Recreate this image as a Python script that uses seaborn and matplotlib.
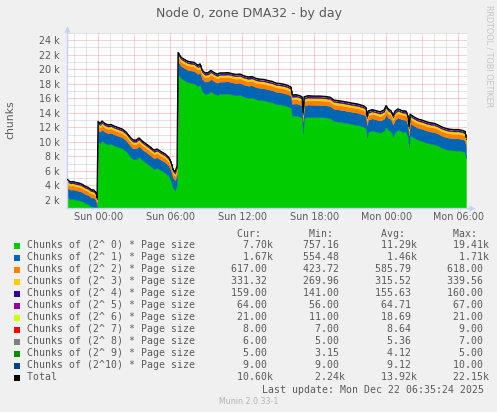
import numpy as np
import matplotlib
matplotlib.use("Agg")
import matplotlib.pyplot as plt
from matplotlib.patches import Rectangle
import seaborn as sns

# sample times in minutes from the left edge of the graph (one rrd step = 5 min = 1 px)
minutes = [
    0, 15, 30, 45, 60, 75, 90, 105, 120, 135, 145, 150,
    155, 165, 175, 190, 205, 220, 235, 255, 275, 295, 315, 330, 345,
    360, 375, 395, 415, 435, 450, 470, 490, 510, 520, 530, 540, 550,
    555, 570, 585, 600, 615, 635, 655, 665, 675, 690, 705, 720, 735, 750, 765, 785, 805, 825, 845, 865, 885,
    905, 925, 945, 965, 985, 1005, 1025, 1045, 1065, 1085, 1105, 1120, 1125, 1145, 1165, 1175, 1180, 1185, 1205, 1235, 1265,
    1295, 1315, 1335, 1365, 1395, 1425, 1455, 1485, 1495, 1500, 1505, 1525, 1545, 1565, 1585, 1595, 1605, 1620, 1630, 1640, 1655,
    1675, 1695, 1705, 1710, 1715, 1735, 1755, 1775, 1795, 1815, 1835, 1855, 1875, 1895, 1915, 1935, 1955, 1975, 1990, 1995,
]

# chunks of (2^n) * page size, stacked from n = 0 upwards
c0 = [
    2450, 2100, 2150, 2000, 1950, 1800, 1550, 1400, 1100, 1050, 800, 757,
    10100, 9800, 10150, 9800, 9650, 9700, 9500, 9300, 9100, 8700, 8000, 7600, 7600,
    7900, 7500, 7100, 6700, 6250, 6400, 6050, 5750, 5200, 4600, 3600, 3300, 4100,
    19410, 18750, 18500, 18250, 18150, 18050, 17650, 17850, 17000, 16600, 16650, 16950, 16650, 16450, 16600, 16600, 16650, 16500, 16400, 16450, 16200,
    16050, 16100, 15850, 15750, 15700, 15550, 15450, 15200, 15150, 15050, 14850, 14650, 13550, 13600, 13450, 13300, 11100, 13300, 13450, 13400, 13400,
    13350, 13250, 12850, 12750, 12600, 12450, 12300, 12050, 11800, 10600, 11350, 11550, 11400, 11250, 11500, 12100, 11650, 11400, 10700, 11350, 11650,
    11400, 11350, 10600, 9200, 10900, 10550, 10250, 10100, 9900, 9750, 9650, 9450, 9150, 8950, 8850, 8800, 8800, 8700, 8550, 7700,
]
c1 = [
    1300, 1300, 1280, 1300, 1290, 1280, 1270, 1260, 1250, 1240, 1150, 555,
    1550, 1560, 1550, 1540, 1540, 1530, 1530, 1520, 1520, 1510, 1500, 1500, 1490,
    1490, 1480, 1480, 1470, 1470, 1460, 1460, 1450, 1450, 1440, 1440, 1430, 1430,
    1710, 1700, 1700, 1700, 1690, 1700, 1690, 1700, 1690, 1690, 1690, 1690, 1690, 1680, 1690, 1690, 1680, 1690, 1680, 1680, 1680,
    1680, 1680, 1680, 1670, 1680, 1680, 1670, 1680, 1670, 1670, 1680, 1670, 1680, 1680, 1680, 1670, 1670, 1680, 1680, 1680, 1680,
    1670, 1680, 1680, 1670, 1680, 1670, 1680, 1670, 1670, 1670, 1680, 1670, 1680, 1670, 1670, 1670, 1680, 1670, 1670, 1680, 1670,
    1680, 1670, 1670, 1670, 1680, 1670, 1670, 1680, 1670, 1670, 1680, 1670, 1670, 1680, 1670, 1670, 1680, 1670, 1670, 1670,
]
c2 = [
    560, 555, 555, 550, 550, 545, 545, 540, 535, 530, 510, 424,
    595, 595, 595, 590, 590, 590, 590, 590, 585, 585, 585, 585, 585,
    580, 580, 580, 580, 580, 580, 575, 575, 575, 575, 570, 570, 575,
    605, 605, 605, 605, 605, 605, 605, 610, 605, 605, 610, 610, 610, 610, 610, 610, 610, 610, 610, 610, 610,
    610, 610, 610, 610, 612, 612, 612, 612, 612, 612, 612, 612, 612, 612, 612, 612, 612, 612, 614, 614, 614,
    614, 614, 614, 614, 614, 614, 614, 614, 614, 614, 614, 614, 616, 616, 616, 616, 616, 616, 616, 616, 616,
    616, 616, 616, 616, 616, 618, 618, 618, 618, 618, 618, 618, 618, 618, 618, 618, 618, 618, 618, 617,
]
c3 = [
    300, 300, 298, 298, 296, 295, 294, 293, 292, 290, 285, 270,
    312, 312, 311, 311, 311, 310, 310, 310, 310, 309, 309, 309, 309,
    308, 308, 308, 308, 307, 307, 307, 307, 306, 306, 306, 305, 305,
    322, 322, 323, 323, 324, 324, 325, 325, 326, 326, 327, 327, 328, 328, 329, 329, 330, 330, 331, 331, 332,
    332, 333, 333, 334, 334, 335, 335, 336, 336, 337, 337, 338, 338, 338, 339, 339, 339, 339, 339.56, 339, 339,
    338, 338, 337, 337, 336, 336, 335, 335, 335, 334, 334, 334, 333, 333, 333, 333, 332, 332, 332, 332, 332,
    332, 332, 331, 331, 331, 331, 331, 331, 331, 331, 331, 331, 331, 331, 331, 331, 331, 331, 331, 331.32,
]
c4 = [
    152, 152, 151, 151, 150, 150, 149, 149, 148, 147, 145, 141,
    156, 156, 156, 156, 155, 155, 155, 155, 155, 155, 155, 155, 155,
    154, 154, 154, 154, 154, 154, 154, 154, 153, 153, 153, 153, 153,
    158, 158, 158, 158, 158, 158, 158, 158, 158, 158, 159, 159, 159, 159, 159, 159, 159, 159, 159, 159, 159,
    159, 159, 159, 159, 159, 159, 159, 159, 159, 159, 160, 160, 160, 160, 160, 160, 160, 160, 160, 160, 160,
    160, 160, 160, 160, 160, 160, 160, 160, 160, 160, 160, 160, 160, 160, 160, 160, 160, 160, 160, 160, 160,
    160, 160, 160, 160, 160, 160, 160, 160, 160, 160, 160, 160, 160, 160, 160, 159, 159, 159, 159, 159,
]
c5 = [
    56, 56, 57, 57, 58, 58, 58, 59, 59, 60, 60, 60,
    64, 64, 64, 64, 64, 64, 64, 64, 64, 64, 64, 64, 64,
    65, 65, 65, 65, 65, 65, 65, 65, 65, 65, 65, 65, 65,
    67, 67, 67, 67, 67, 67, 67, 67, 67, 67, 67, 67, 67, 67, 67, 67, 67, 67, 67, 67, 67,
    67, 67, 67, 67, 67, 67, 67, 67, 67, 67, 67, 67, 67, 67, 67, 67, 67, 67, 67, 67, 67,
    66, 66, 66, 66, 66, 66, 66, 66, 66, 66, 66, 66, 66, 66, 66, 66, 66, 66, 66, 66, 66,
    65, 65, 65, 65, 65, 65, 65, 65, 65, 65, 65, 65, 64, 64, 64, 64, 64, 64, 64, 64,
]
c6 = [
    11, 11, 11, 11, 11, 11, 11, 11, 11, 11, 11, 11,
    17, 17, 17, 17, 17, 17, 17, 17, 17, 17, 17, 17, 17,
    18, 18, 18, 18, 18, 18, 18, 18, 18, 18, 18, 18, 18,
    21, 21, 21, 21, 21, 21, 21, 21, 21, 21, 21, 21, 21, 21, 21, 21, 21, 21, 21, 21, 21,
    21, 21, 21, 21, 21, 21, 21, 21, 21, 21, 21, 21, 21, 21, 21, 21, 21, 21, 21, 21, 21,
    21, 21, 21, 21, 21, 21, 21, 21, 21, 21, 21, 21, 21, 21, 21, 21, 21, 21, 21, 21, 21,
    21, 21, 21, 21, 21, 21, 21, 21, 21, 21, 21, 21, 21, 21, 21, 21, 21, 21, 21, 21,
]
c7 = [
    7, 7, 7, 7, 7, 7, 7, 7, 7, 7, 7, 7,
    9, 9, 9, 9, 9, 9, 9, 9, 9, 9, 9, 9, 9,
    9, 9, 9, 9, 9, 9, 9, 9, 9, 9, 9, 9, 9,
    9, 9, 9, 9, 9, 9, 9, 9, 9, 9, 9, 9, 9, 9, 9, 9, 9, 9, 9, 9, 9,
    9, 9, 9, 9, 9, 9, 9, 9, 9, 9, 9, 9, 9, 9, 9, 9, 9, 9, 9, 9, 9,
    9, 9, 9, 9, 9, 9, 9, 9, 9, 9, 9, 9, 9, 9, 9, 9, 9, 9, 9, 9, 9,
    8, 8, 8, 8, 8, 8, 8, 8, 8, 8, 8, 8, 8, 8, 8, 8, 8, 8, 8, 8,
]
c8 = [
    7, 7, 6, 6, 6, 6, 6, 5, 5, 5, 5, 5,
    5, 5, 5, 5, 5, 5, 5, 5, 5, 5, 5, 5, 5,
    5, 5, 5, 5, 5, 5, 5, 5, 5, 5, 5, 5, 5,
    5, 5, 5, 5, 5, 5, 5, 5, 5, 5, 5, 5, 5, 5, 5, 5, 5, 5, 5, 5, 5,
    5, 5, 5, 5, 5, 5, 5, 5, 5, 5, 5, 5, 5, 5, 5, 5, 5, 5, 5, 5, 5,
    5, 5, 5, 5, 5, 5, 5, 5, 5, 5, 5, 5, 5, 5, 5, 5, 5, 5, 5, 5, 5,
    5, 5, 5, 5, 5, 5, 5, 6, 6, 6, 6, 6, 6, 6, 6, 6, 6, 6, 6, 6,
]
c9 = [
    3.15, 3.15, 3.15, 3.15, 3.15, 3.15, 3.15, 3.15, 3.15, 3.15, 3.15, 3.15,
    4, 4, 4, 4, 4, 4, 4, 4, 4, 4, 4, 4, 4,
    4, 4, 4, 4, 4, 4, 4, 4, 4, 4, 4, 4, 4,
    4, 4, 4, 4, 4, 4, 4, 4, 4, 4, 4, 4, 4, 4, 4, 4, 4, 4, 4, 4, 4,
    4, 4, 4, 4, 4, 4, 4, 4, 4, 4, 4, 4, 4, 4, 4, 4, 4, 4, 4, 4, 4,
    4, 4, 4, 4, 4, 4, 4, 4, 4, 4, 4, 4, 4, 4, 4, 4, 4, 4, 4, 4, 4,
    5, 5, 5, 5, 5, 5, 5, 5, 5, 5, 5, 5, 5, 5, 5, 5, 5, 5, 5, 5,
]
c10 = [
    10, 10, 10, 10, 10, 10, 10, 10, 10, 10, 10, 10,
    9, 9, 9, 9, 9, 9, 9, 9, 9, 9, 9, 9, 9,
    9, 9, 9, 9, 9, 9, 9, 9, 9, 9, 9, 9, 9,
    9, 9, 9, 9, 9, 9, 9, 9, 9, 9, 9, 9, 9, 9, 9, 9, 9, 9, 9, 9, 9,
    9, 9, 9, 9, 9, 9, 9, 9, 9, 9, 9, 9, 9, 9, 9, 9, 9, 9, 9, 9, 9,
    9, 9, 9, 9, 9, 9, 9, 9, 9, 9, 9, 9, 9, 9, 9, 9, 9, 9, 9, 9, 9,
    9, 9, 9, 9, 9, 9, 9, 9, 9, 9, 9, 9, 9, 9, 9, 9, 9, 9, 9, 9,
]

series_labels = [
    "Chunks of (2^ 0) * Page size", "Chunks of (2^ 1) * Page size",
    "Chunks of (2^ 2) * Page size", "Chunks of (2^ 3) * Page size",
    "Chunks of (2^ 4) * Page size", "Chunks of (2^ 5) * Page size",
    "Chunks of (2^ 6) * Page size", "Chunks of (2^ 7) * Page size",
    "Chunks of (2^ 8) * Page size", "Chunks of (2^ 9) * Page size",
    "Chunks of (2^10) * Page size", "Total",
]
colors = ["#00CC00", "#0066B3", "#FF8000", "#FFCC00", "#330099", "#990099",
          "#CCFF00", "#FF0000", "#808080", "#008F00", "#00487D", "#000000"]

# legend statistics (last row = Total)
cur_vals = [7700, 1670, 617.00, 331.32, 159.00, 64.00, 21.00, 8.00, 6.00, 5.00, 9.00, 10600]
min_vals = [757.16, 554.48, 423.72, 269.96, 141.00, 56.00, 11.00, 7.00, 5.00, 3.15, 9.00, 2240]
avg_vals = [11290, 1460, 585.79, 315.52, 155.63, 64.71, 18.69, 8.64, 5.36, 4.12, 9.12, 13920]
max_vals = [19410, 1710, 618.00, 339.56, 160.00, 67.00, 21.00, 9.00, 7.00, 5.00, 10.00, 22150]

xtick_labels = ["Sun 00:00", "Sun 06:00", "Sun 12:00", "Sun 18:00", "Mon 00:00", "Mon 06:00"]
ytick_vals = [2000, 4000, 6000, 8000, 10000, 12000, 14000, 16000, 18000, 20000, 22000, 24000]

sns.set_style("white")
plt.rcParams["font.family"] = ["DejaVu Sans"]

W, H = 497, 412
text_col = "#5a5a5a"
axis_col = "#C8D0F5"
major_col = "#F2A2A2"
minor_col = "#C8C8C8"


def fx(px):
    return px / W


def fy(py):
    return 1 - py / H


fig = plt.figure(figsize=(W / 100, H / 100), dpi=100, facecolor="#F0F0F0")
ax = fig.add_axes([fx(67), fy(207.5), 400 / W, 175 / H])
ax.set_facecolor("white")

layers = [c0, c1, c2, c3, c4, c5, c6, c7, c8, c9, c10]
ax.stackplot(minutes, *layers, colors=colors[:11], linewidth=0.3, edgecolor="face", zorder=2)
total = np.sum(np.array(layers, dtype=float), axis=0)
sns.lineplot(x=minutes, y=total, ax=ax, color="black", linewidth=0.85, zorder=3, legend=False)

# Sun 00:00 sits 156 minutes after the left edge
sun0 = 156
for m in np.arange(sun0 - 120, 2000, 60):
    col = major_col if (m - sun0) % 180 == 0 else minor_col
    ax.axvline(m, color=col, lw=0.72, ls=(0, (1, 1)), zorder=1)
for v in np.arange(1000, 25001, 1000):
    col = major_col if v % 2000 == 0 else minor_col
    ax.axhline(v, color=col, lw=0.72, ls=(0, (1, 1)), zorder=1)

ax.set_xlim(0, 2000)
ax.set_ylim(940, 25060)
ax.set_xticks([sun0 + 360 * i for i in range(len(xtick_labels))], xtick_labels)
ax.set_yticks(ytick_vals, [f"{v // 1000} k" for v in ytick_vals])
ax.tick_params(axis="both", length=2, width=1, color=axis_col, labelsize=6.9,
               labelcolor=text_col)
ax.tick_params(axis="x", pad=1.5)
ax.tick_params(axis="y", pad=3)
ax.set_xlabel("")
ax.set_ylabel("")

for s in ["top", "right"]:
    ax.spines[s].set_visible(False)
for s in ["left", "bottom"]:
    ax.spines[s].set_color(axis_col)
    ax.spines[s].set_linewidth(1.0)
ax.plot([0, 0], [1, 1.02], color=axis_col, lw=1, transform=ax.transAxes, clip_on=False)
ax.plot([1, 1.01], [0, 0], color=axis_col, lw=1, transform=ax.transAxes, clip_on=False)
ax.plot([0], [1.022], marker="^", ms=4.5, color=axis_col, mec="none",
        transform=ax.transAxes, clip_on=False)
ax.plot([1.012], [0], marker=">", ms=4.5, color=axis_col, mec="none",
        transform=ax.transAxes, clip_on=False)

fig.text(fx(248.5), fy(13), "Node 0, zone DMA32 - by day", ha="center", va="center",
         fontsize=9, color=text_col)
fig.text(fx(10), fy(120), "chunks", rotation=90, ha="center", va="center",
         fontsize=7.8, color=text_col)
fig.text(fx(488.5), fy(56.5), "RRDTOOL / TOBI OETIKER", rotation=270, ha="center",
         va="center", fontsize=5.8, color="#c4c4c4")


def fmt(v):
    return f"{v / 1000:.2f}k" if v >= 1000 else f"{v:.2f} "


mono = dict(family="DejaVu Sans Mono", fontsize=7.1, color=text_col, va="center")
header = " " * 35 + "Cur:" + " " * 8 + "Min:" + " " * 8 + "Avg:" + " " * 8 + "Max:"
fig.text(fx(26.7), fy(234), header, ha="left", **mono)
for i, label in enumerate(series_labels):
    y = 245.5 + 12 * i
    line = (f"{label:<28}{fmt(cur_vals[i]):>13}{fmt(min_vals[i]):>12}"
            f"{fmt(avg_vals[i]):>12}{fmt(max_vals[i]):>12}")
    fig.text(fx(26.7), fy(y), line, ha="left", **mono)
    fig.add_artist(Rectangle((fx(14), fy(y + 3)), 6 / W, 6 / H, transform=fig.transFigure,
                             facecolor=colors[i], edgecolor="none"))
fig.text(fx(483.5), fy(389.7), "Last update: Mon Dec 22 06:35:24 2025", ha="right", **mono)
fig.text(fx(248.5), fy(401.7), "Munin 2.0.33-1", ha="center", va="center",
         fontsize=5.7, color="#b4b4b4")

fig.savefig("out.png", dpi=100, facecolor=fig.get_facecolor())
